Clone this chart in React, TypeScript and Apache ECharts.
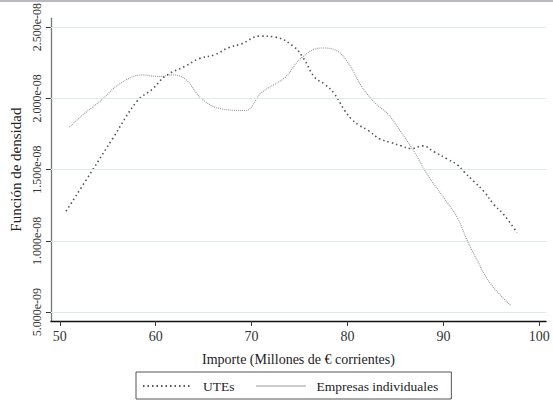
import React, { useEffect, useRef } from "react";
import * as echarts from "echarts";

// density values are stored in units of 1e-9
const UNIT = 1e-9;

const utesX = [50.65, 53.42, 55.5, 58.09, 59.65, 61.03, 63.1, 64.49, 66.21, 67.6, 68.98, 70.85, 72.5, 74.35, 75.38, 76.59, 77.62, 78.66, 79.7, 80.39, 81.26, 82.13, 83.33, 84.54, 85.58, 86.62, 87.83, 89.04, 90.42, 91.46, 92.14, 93.18, 94.22, 95.26, 96.29, 97.68];
const utesY = [12.08, 14.98, 17.17, 19.84, 20.65, 21.58, 22.27, 22.78, 23.08, 23.56, 23.84, 24.37, 24.3, 23.66, 22.85, 21.46, 21.0, 20.3, 19.15, 18.56, 18.1, 17.76, 17.17, 16.9, 16.67, 16.48, 16.67, 16.25, 15.74, 15.33, 14.86, 14.17, 13.47, 12.55, 11.85, 10.58];

const empX = [51.0, 52.73, 54.46, 56.19, 58.61, 60.34, 61.72, 63.1, 64.83, 66.91, 69.33, 71.06, 73.47, 75.2, 77.28, 78.66, 80.05, 81.43, 82.81, 84.2, 85.58, 86.96, 88.35, 90.07, 91.46, 92.5, 93.54, 94.92, 96.99];
const empY = [17.99, 19.03, 19.95, 21.0, 21.65, 21.53, 21.65, 21.34, 19.95, 19.26, 19.15, 20.42, 21.46, 22.85, 23.54, 23.42, 22.5, 20.88, 19.72, 18.91, 17.64, 16.25, 14.63, 13.0, 11.62, 10.0, 8.61, 6.99, 5.49];

const xTicks = [50, 60, 70, 80, 90, 100];
const yTicks = [5, 10, 15, 20, 25];

const FONT = "Liberation Serif";

function fmt(v: number): string {
  const s = (v * UNIT).toExponential(3);
  const [m, e] = s.split("e");
  const sign = e[0] === "-" ? "-" : "+";
  const digits = e.replace(/[-+]/, "").padStart(2, "0");
  return m + "e" + sign + digits;
}

export default function App() {
  const ref = useRef<HTMLDivElement>(null);
  useEffect(() => {
    if (!ref.current) return;
    const chart = echarts.init(ref.current, null, { renderer: "svg" });
    chart.setOption({
      animation: false,
      backgroundColor: "#ffffff",
      textStyle: { fontFamily: FONT },
      grid: { left: 48, right: 7, top: 16, bottom: 82, containLabel: false },
      xAxis: {
        type: "value",
        min: 49.07,
        max: 100.7,
        name: "Importe (Millones de € corrientes)",
        nameLocation: "middle",
        nameGap: 31,
        nameTextStyle: { fontFamily: FONT, fontSize: 14, color: "#222" },
        axisLine: { show: true, onZero: false, lineStyle: { color: "#111", width: 1.3 } },
        axisTick: { show: true, customValues: xTicks, length: 5, lineStyle: { color: "#333" } },
        axisLabel: { customValues: xTicks, margin: 8, fontFamily: FONT, fontSize: 14, color: "#333" },
        splitLine: { show: false },
      },
      yAxis: {
        type: "value",
        min: 4.375,
        max: 25.625,
        name: "Función de densidad",
        nameLocation: "middle",
        nameGap: 25,
        nameRotate: 90,
        nameTextStyle: { fontFamily: FONT, fontSize: 15, color: "#222" },
        axisLine: { show: true, onZero: false, lineStyle: { color: "#777", width: 1.3 } },
        axisTick: { show: true, customValues: yTicks, length: 5, lineStyle: { color: "#333" } },
        axisLabel: {
          customValues: yTicks,
          rotate: 90,
          margin: 8,
          fontFamily: FONT,
          fontSize: 12,
          color: "#333",
          formatter: (v: number) => fmt(v),
        },
        splitLine: { show: false },
      },
      legend: {
        show: true,
        left: 136,
        top: 372,
        orient: "horizontal",
        padding: [7, 13, 6, 6],
        itemWidth: 49,
        itemHeight: 10,
        itemGap: 21,
        borderColor: "#555",
        borderWidth: 1,
        borderRadius: 0,
        itemStyle: { opacity: 0 },
        textStyle: { fontFamily: FONT, fontSize: 13.5, color: "#222", padding: [0, 0, 0, 6] },
        data: ["UTEs", "Empresas individuales"],
      },
      series: [
        {
          name: "UTEs",
          type: "line",
          smooth: 0.4,
          symbol: "none",
          data: utesX.map((x, i) => [x, utesY[i]]),
          lineStyle: { color: "#555", width: 1.6, type: [1.5, 3] },
          itemStyle: { color: "#555" },
          z: 3,
        },
        {
          name: "Empresas individuales",
          type: "line",
          smooth: 0.4,
          symbol: "none",
          data: empX.map((x, i) => [x, empY[i]]),
          lineStyle: { color: "#999", width: 1.1, type: [1, 1] },
          itemStyle: { color: "#999" },
          z: 2,
          markLine: {
            silent: true,
            symbol: ["none", "none"],
            label: { show: false },
            lineStyle: { color: "#dde9ea", type: "solid", width: 1 },
            data: yTicks.map((v) => ({ yAxis: v })),
          },
        },
      ],
      graphic: [
        {
          type: "rect",
          left: 0,
          top: 0,
          z: 100,
          shape: { x: 0, y: 0, width: 553, height: 2 },
          style: { fill: "#b9b9c1" },
        },
      ],
    });
    return () => chart.dispose();
  }, []);
  return (
    <div
      ref={ref}
      style={{ position: "absolute", left: 0, top: 0, width: 553, height: 403 }}
    />
  );
}
